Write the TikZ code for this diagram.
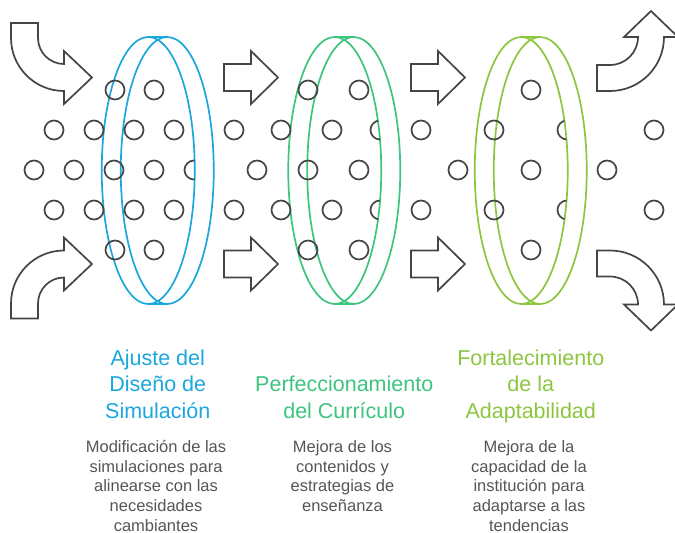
\documentclass[tikz,border=0pt]{standalone}
\usepackage{fontspec}
\setmainfont{Liberation Sans}
\definecolor{cblue}{HTML}{1AA7DC}
\definecolor{cgreen}{HTML}{3DC47E}
\definecolor{clime}{HTML}{8CC63F}
\definecolor{cgray}{HTML}{454545}
\definecolor{ctext}{HTML}{555555}
\newcommand\drawlens[2]{%
  \draw[lensline,#2] (#1-9.5,170.5) ellipse [x radius=46.5, y radius=133.5];
  \draw[lensline,#2] (#1+9.5,170.5) ellipse [x radius=46.5, y radius=133.5];
  \draw[lensline,#2] (#1-9.5,37) -- (#1+9.5,37) (#1-9.5,304) -- (#1+9.5,304);
}
\newcommand\rarrow[2]{%
  \draw[arrowshape] (#1,#2-13.5) -- (#1+27,#2-13.5) -- (#1+27,#2-26.5) -- (#1+54,#2)
    -- (#1+27,#2+26.5) -- (#1+27,#2+13.5) -- (#1,#2+13.5) -- cycle;
}
\newcommand\clipdot[3]{%
  \begin{scope}
    \clip (#1,170.5) ellipse [x radius=46.5, y radius=133.5];
    \draw[dot] (#2,#3) circle [radius=9.5];
  \end{scope}
}
\begin{document}
\begin{tikzpicture}[x=1pt,y=-1pt,
  dot/.style={draw=cgray,line width=1.7pt},
  lensline/.style={line width=1.7pt},
  arrowshape/.style={draw=cgray,fill=white,line width=1.7pt,line join=miter},
  ttl/.style={font=\fontsize{21.5}{26.65}\selectfont,align=center,anchor=base,inner sep=0pt},
  dsc/.style={text=ctext,font=\fontsize{16.5}{19.6}\selectfont,align=center,anchor=base,inner sep=0pt}]
\useasboundingbox (0,0) rectangle (675,533);

% lenses
\drawlens{157.75}{cblue}
\drawlens{344.25}{cgreen}
\drawlens{530.75}{clime}

% dots
\foreach \px in {115,154,308,359,531} {
  \draw[dot] (\px,90) circle [radius=9.5];
  \draw[dot] (\px,250) circle [radius=9.5];
}
\foreach \px in {54,94,134,174,234,281,332,421,494,654} {
  \draw[dot] (\px,130) circle [radius=9.5];
  \draw[dot] (\px,210) circle [radius=9.5];
}
\foreach \px in {34,74,114,154,257,308,359,458,531,607} {
  \draw[dot] (\px,170) circle [radius=9.5];
}
\clipdot{148.25}{194}{170}
\clipdot{334.75}{380}{130}
\clipdot{334.75}{380}{210}
\clipdot{521.25}{567}{130}
\clipdot{521.25}{567}{210}

% straight arrows
\rarrow{224}{77.5}
\rarrow{224}{264}
\rarrow{411}{77.5}
\rarrow{411}{264}

% curved arrows left
\draw[arrowshape] (11,23) -- (38,23) -- (38,38) arc [start angle=180, end angle=90, radius=26]
  -- (64,51) -- (92,77.5) -- (64,104) -- (64,91) arc [start angle=90, end angle=180, radius=53] -- cycle;
\draw[arrowshape] (11,318.5) -- (38,318.5) -- (38,303.5) arc [start angle=180, end angle=270, radius=26]
  -- (64,290.5) -- (92,264) -- (64,237.5) -- (64,250.5) arc [start angle=270, end angle=180, radius=53] -- cycle;
% curved arrows right
\draw[arrowshape] (597,65) -- (610,65) arc [start angle=90, end angle=0, radius=28]
  -- (624,37) -- (651,11) -- (678,37) -- (664,37) arc [start angle=0, end angle=90, radius=54] -- (597,91) -- cycle;
\draw[arrowshape] (597,276.5) -- (610,276.5) arc [start angle=270, end angle=360, radius=28]
  -- (624,304.5) -- (651,330.5) -- (678,304.5) -- (664,304.5) arc [start angle=360, end angle=270, radius=54] -- (597,250.5) -- cycle;

% texts (base anchor = baseline of last line)
\node[ttl,text=cblue] (t1) at (157.75,418.3) {Ajuste del\\Diseño de\\Simulación};
\node[ttl,text=cgreen] (t2) at (344.25,418.3) {Perfeccionamiento\\del Currículo};
\node[ttl,text=clime] (t3) at (530.75,418.3) {Fortalecimiento\\de la\\Adaptabilidad};
\node[dsc] (d1) at (156,531.1) {Modificación de las\\simulaciones para\\alinearse con las\\necesidades\\cambiantes};
\node[dsc] (d2) at (342.5,511.5) {Mejora de los\\contenidos y\\estrategias de\\enseñanza};
\node[dsc] (d3) at (529,531.1) {Mejora de la\\capacidad de la\\institución para\\adaptarse a las\\tendencias};
\end{tikzpicture}
\end{document}
